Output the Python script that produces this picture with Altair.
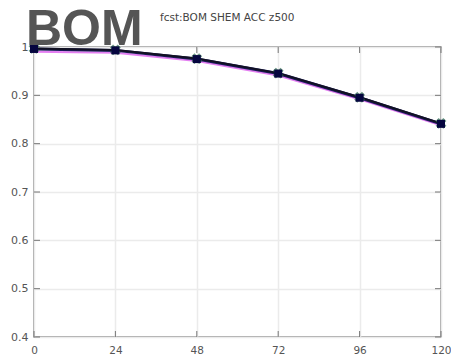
import altair as alt
import pandas as pd

leads = [0, 24, 48, 72, 96, 120]
acc_main = [0.997, 0.994, 0.976, 0.946, 0.896, 0.842]
acc_alt = [0.996, 0.993, 0.975, 0.945, 0.895, 0.841]
acc_pink = [0.990, 0.988, 0.971, 0.941, 0.892, 0.838]
x_ticks = [0, 24, 48, 72, 96, 120]
y_ticks = [0.4, 0.5, 0.6, 0.7, 0.8, 0.9, 1.0]

W, H = 407, 290

df_main = pd.DataFrame({"lead": leads, "acc": acc_main})
df_alt = pd.DataFrame({"lead": leads, "acc": acc_alt})
df_pink = pd.DataFrame({"lead": leads, "acc": acc_pink})
df_xt = pd.DataFrame({"t": x_ticks})
df_yt = pd.DataFrame({"t": y_ticks})

xs = alt.Scale(domain=[0, 120], nice=False)
ys = alt.Scale(domain=[0.4, 1.0], nice=False)

x_axis = alt.Axis(values=x_ticks, grid=True, gridColor="#ebebeb", gridWidth=1.5, domain=False, ticks=False,
                  labelFont="DejaVu Sans", labelFontSize=10.5, labelColor="#555", labelPadding=8,
                  title=None, labelFlush=False)
y_axis = alt.Axis(values=y_ticks, grid=True, gridColor="#ebebeb", gridWidth=1.5, domain=False, ticks=False,
                  labelFont="DejaVu Sans", labelFontSize=11, labelColor="#555", labelPadding=6,
                  title=None, labelExpr="datum.value == 1 ? '1' : format(datum.value, '.1f')")

base_x = alt.X("lead:Q", scale=xs, axis=x_axis)
base_y = alt.Y("acc:Q", scale=ys, axis=y_axis)

pink = alt.Chart(df_pink).mark_line(color="#e070f0", strokeWidth=2, opacity=0.9).encode(x=base_x, y=base_y)
navy = alt.Chart(df_alt).mark_line(color="#1a1a5a", strokeWidth=3).encode(
    x=alt.X("lead:Q", scale=xs), y=alt.Y("acc:Q", scale=ys))
black = alt.Chart(df_main).mark_line(color="#111122", strokeWidth=2).encode(
    x=alt.X("lead:Q", scale=xs), y=alt.Y("acc:Q", scale=ys))
cross = alt.Chart(df_main).mark_point(shape="cross", angle=45, size=120, filled=True, color="#2e6e50").encode(
    x=alt.X("lead:Q", scale=xs), y=alt.Y("acc:Q", scale=ys))
sq = alt.Chart(df_alt).mark_square(size=64, color="#05053f", opacity=1).encode(
    x=alt.X("lead:Q", scale=xs), y=alt.Y("acc:Q", scale=ys))

tick_col = "#777"
xt_bottom = alt.Chart(df_xt).mark_rule(color=tick_col, strokeWidth=1).encode(
    x=alt.X("t:Q", scale=xs), y=alt.value(H), y2=alt.value(H - 6))
xt_top = alt.Chart(df_xt).mark_rule(color=tick_col, strokeWidth=1).encode(
    x=alt.X("t:Q", scale=xs), y=alt.value(0), y2=alt.value(6))
yt_left = alt.Chart(df_yt).mark_rule(color=tick_col, strokeWidth=1).encode(
    y=alt.Y("t:Q", scale=ys), x=alt.value(0), x2=alt.value(6))
yt_right = alt.Chart(df_yt).mark_rule(color=tick_col, strokeWidth=1).encode(
    y=alt.Y("t:Q", scale=ys), x=alt.value(W), x2=alt.value(W - 6))

bom = alt.Chart(pd.DataFrame({"s": ["BOM"]})).mark_text(
    font="Liberation Sans", fontWeight="bold", fontSize=50, color="#555555",
    align="left", baseline="alphabetic").encode(text="s:N", x=alt.value(-8), y=alt.value(-2))
sub = alt.Chart(pd.DataFrame({"s": ["fcst:BOM SHEM ACC z500"]})).mark_text(
    font="DejaVu Sans", fontSize=10.5, color="#444444",
    align="left", baseline="alphabetic").encode(text="s:N", x=alt.value(126), y=alt.value(-26))

chart = alt.layer(pink, navy, black, xt_bottom, xt_top, yt_left, yt_right, cross, sq, bom, sub).properties(
    width=W, height=H,
    autosize=alt.AutoSizeParams(type="none"),
    padding={"left": 26, "top": 39, "right": 10, "bottom": 22},
).configure_view(stroke="#888888", strokeWidth=1.5)

chart.save("out.html", embed_options={"renderer": "svg", "actions": False})
